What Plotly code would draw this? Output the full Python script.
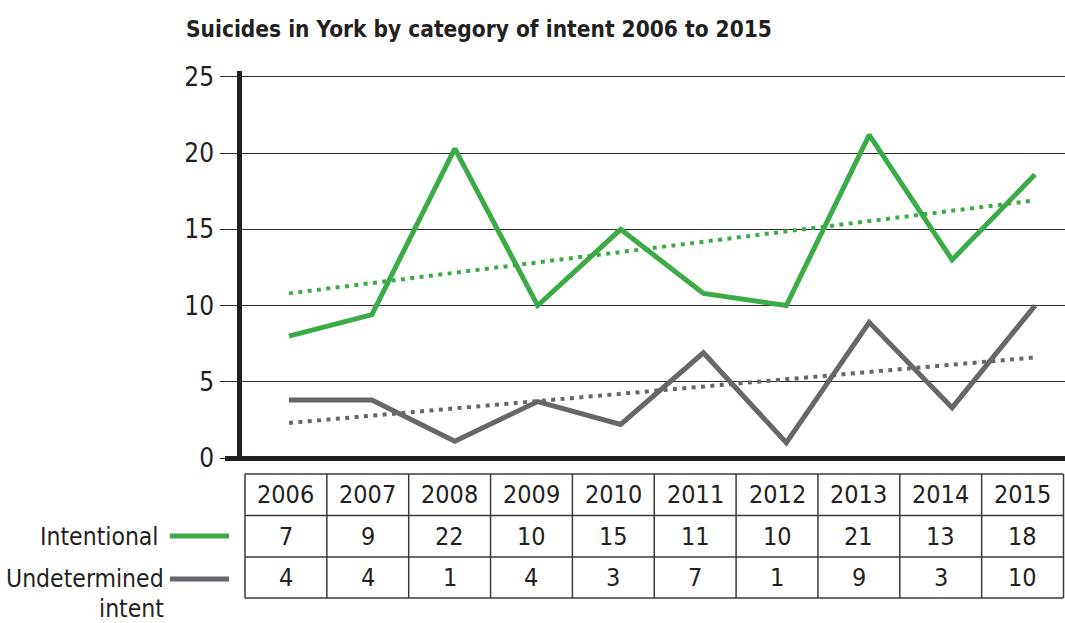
import plotly.graph_objects as go

# ---- data ----
years = ["2006", "2007", "2008", "2009", "2010", "2011", "2012", "2013", "2014", "2015"]
intentional_table = [7, 9, 22, 10, 15, 11, 10, 21, 13, 18]
undetermined_table = [4, 4, 1, 4, 3, 7, 1, 9, 3, 10]
# plotted line positions as drawn in the chart
intentional_line = [8.0, 9.4, 20.3, 10.0, 15.0, 10.8, 10.0, 21.2, 13.0, 18.6]
undetermined_line = [3.8, 3.8, 1.1, 3.7, 2.2, 6.9, 1.0, 8.9, 3.3, 10.0]
# dotted trend lines (start, end)
intentional_trend = [10.8, 16.9]
undetermined_trend = [2.3, 6.6]
y_ticks = [0, 5, 10, 15, 20, 25]

GREEN = "#3bab47"
GREY = "#67666b"
INK = "#231f20"
FONT = "DejaVu Sans Condensed, DejaVu Sans, sans-serif"

W, H = 1065, 623
L, R, T, B = 242, 0, 71, 165
PW, PH = W - L - R, H - T - B


def px(x):
    return (x - L) / PW


def py(y):
    return (H - B - y) / PH


xs = list(range(len(years)))

fig = go.Figure()
fig.add_trace(go.Scatter(x=xs, y=intentional_line, mode="lines",
                         line=dict(color=GREEN, width=5), hoverinfo="skip"))
fig.add_trace(go.Scatter(x=xs, y=undetermined_line, mode="lines",
                         line=dict(color=GREY, width=5), hoverinfo="skip"))
fig.add_trace(go.Scatter(x=[xs[0], xs[-1]], y=intentional_trend, mode="lines",
                         line=dict(color=GREEN, width=4, dash="4px,5.4px"), hoverinfo="skip"))
fig.add_trace(go.Scatter(x=[xs[0], xs[-1]], y=undetermined_trend, mode="lines",
                         line=dict(color=GREY, width=4, dash="4px,5.4px"), hoverinfo="skip"))

shapes = []
# thick baseline at 0
shapes.append(dict(type="line", xref="paper", yref="paper", x0=px(225), x1=1, y0=py(458.5), y1=py(458.5),
                   line=dict(color=INK, width=5)))

# table grid
tbl_left, tbl_right = 245, 1063.5
row_y = [474, 515.5, 557, 598]
col_w = (tbl_right - tbl_left) / len(years)
for yy in row_y:
    shapes.append(dict(type="line", xref="paper", yref="paper", x0=px(tbl_left), x1=px(tbl_right),
                       y0=py(yy), y1=py(yy), line=dict(color="#3a3a3a", width=1.5)))
for i in range(len(years) + 1):
    xx = tbl_left + i * col_w
    shapes.append(dict(type="line", xref="paper", yref="paper", x0=px(xx), x1=px(xx),
                       y0=py(row_y[0]), y1=py(row_y[-1]), line=dict(color="#3a3a3a", width=1.5)))

# legend swatches
shapes.append(dict(type="line", xref="paper", yref="paper", x0=px(170), x1=px(229), y0=py(536), y1=py(536),
                   line=dict(color=GREEN, width=5)))
shapes.append(dict(type="line", xref="paper", yref="paper", x0=px(170), x1=px(229), y0=py(579), y1=py(579),
                   line=dict(color=GREY, width=5)))

annotations = []
rows = [years, [str(v) for v in intentional_table], [str(v) for v in undetermined_table]]
for r, vals in enumerate(rows):
    yc = (row_y[r] + row_y[r + 1]) / 2
    for i, v in enumerate(vals):
        xc = tbl_left + (i + 0.5) * col_w
        annotations.append(dict(x=px(xc), y=py(yc), xref="paper", yref="paper", text=v, showarrow=False,
                                xanchor="center", yanchor="middle",
                                font=dict(family=FONT, size=25, color=INK)))

for text, xr, yc in [("Intentional", 161, 536), ("Undetermined", 166, 578), ("intent", 166, 608)]:
    annotations.append(dict(x=px(xr), y=py(yc), xref="paper", yref="paper", text=text, showarrow=False,
                            xanchor="right", yanchor="middle",
                            font=dict(family=FONT, size=24.5, color=INK)))

# title
annotations.append(dict(x=px(184), y=py(29), xref="paper", yref="paper",
                        text="<b>Suicides in York by category of intent 2006 to 2015</b>", showarrow=False,
                        xanchor="left", yanchor="middle",
                        font=dict(family=FONT, size=22.5, color=INK)))

x_left = 0 - (289 - L) / ((1035 - 289) / 9)
x_right = 9 + (W - 1035) / ((1035 - 289) / 9)

fig.update_layout(
    width=W, height=H, autosize=False,
    margin=dict(l=L, r=R, t=T, b=B, pad=0),
    paper_bgcolor="white", plot_bgcolor="white",
    showlegend=False,
    shapes=shapes, annotations=annotations,
    xaxis=dict(range=[x_left, x_right], visible=False, fixedrange=True),
    yaxis=dict(range=[0, 25.39], tickvals=y_ticks, showgrid=True, gridcolor="#2e2e2e", gridwidth=1.3,
               zeroline=False, ticks="outside", ticklen=17, tickwidth=1.3, tickcolor="#2e2e2e",
               showline=True, linewidth=4.5, linecolor=INK, ticklabelstandoff=1,
               tickfont=dict(family=FONT, size=26, color=INK), fixedrange=True),
)

fig.write_html("out.html", config={"displayModeBar": False},
               post_script="document.body.style.margin='0';document.body.style.padding='0';")
